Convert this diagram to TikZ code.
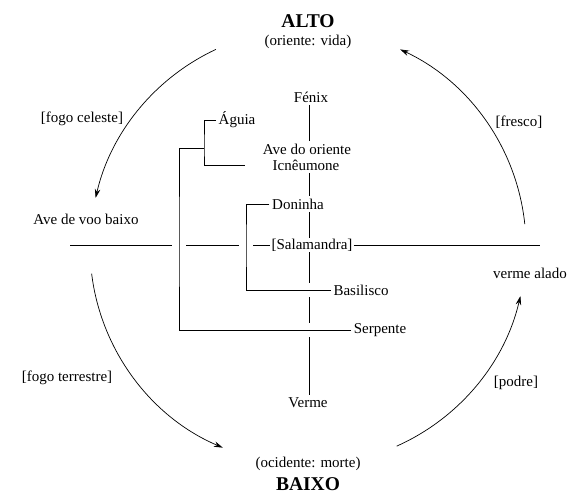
\documentclass[tikz,border=0pt]{standalone}
\usepackage{fontspec}
\setmainfont{Liberation Serif}
\usetikzlibrary{arrows.meta,positioning,calc}

\tikzset{
  term/.style={inner sep=2.5pt, font=\fontsize{15}{17}\selectfont},
  pole/.style={inner sep=1pt, font=\fontsize{19.5}{21}\selectfont\bfseries},
  link/.style={line width=0.8pt},
  crossover/.style={link, preaction={draw=white, line width=14pt}},
  cyclearrow/.style={line width=0.7pt, -{Stealth[length=9pt,width=5.5pt]}},
}

\begin{document}
\begin{tikzpicture}[x=1pt,y=1pt]
\useasboundingbox (0,0) rectangle (573,494);
% poles
\node[pole] (alto) at (308,473) {ALTO};
\node[term] (oriente) at (308,452) {(oriente: vida)};
\node[term] (ocidente) at (308,30) {(ocidente: morte)};
\node[pole] (baixo) at (308,10) {BAIXO};
% animals
\node[term] (fenix) at (311,397) {Fénix};
\node[term, anchor=west] (aguia) at (216,374) {Águia};
\node[term] (aveoriente) at (307,345) {Ave do oriente};
\node[term] (icneumone) at (306,329) {Icnêumone};
\node[term] (doninha) at (298,290) {Doninha};
\node[term, inner sep=1pt] (salamandra) at (312,249) {[Salamandra]};
\node[term] (basilisco) at (361,204) {Basilisco};
\node[term] (serpente) at (380,164) {Serpente};
\node[term] (verme) at (308,91) {Verme};
\node[term] (avebaixo) at (86,275) {Ave de voo baixo};
\node[term] (vermealado) at (530,221) {verme alado};
% cycle labels
\node[term] (fogoceleste) at (82,375) {[fogo celeste]};
\node[term] (fresco) at (519,372) {[fresco]};
\node[term] (fogoterrestre) at (67,116) {[fogo terrestre]};
\node[term] (podre) at (516,111) {[podre]};

\coordinate (ax) at (309,0);
\coordinate (horzW) at (70,249);
\coordinate (horzE) at (540,249);
\coordinate (aguiaBr) at (204,346);
\coordinate (icnIn) at (245,329);
\coordinate (bigBr) at (179,250);
\coordinate (doninhaBr) at (246,250);
\coordinate (C) at (308,247);

% vertical axis
\draw[link] (fenix.south -| ax) -- (aveoriente.north -| ax);
\draw[link] (icneumone.south -| ax) -- (doninha.north -| ax);
\draw[link] (doninha.south -| ax) -- (salamandra.north -| ax);
\draw[link] (salamandra.south -| ax) -- (verme.north -| ax);
% horizontal axis
\draw[link] (horzW) -- (salamandra.west);
\draw[link] (salamandra.east) -- (horzE);
% brackets
\draw[crossover] (doninha.west) -| (doninhaBr) |- (basilisco.west);
\draw[crossover] (serpente.west) -| (bigBr) |- (aguiaBr);
\draw[link] (aguia.west) -| (aguiaBr) |- (icnIn);

% cycle
\draw[cyclearrow] ([shift={(115:218)}]C) arc[start angle=115, end angle=167, radius=218];
\draw[cyclearrow] ([shift={(187:218)}]C) arc[start angle=187, end angle=247, radius=218];
\draw[cyclearrow] ([shift={(294:218)}]C) arc[start angle=294, end angle=347, radius=218];
\draw[cyclearrow] ([shift={(6:218)}]C) arc[start angle=6, end angle=65, radius=218];
\end{tikzpicture}
\end{document}
